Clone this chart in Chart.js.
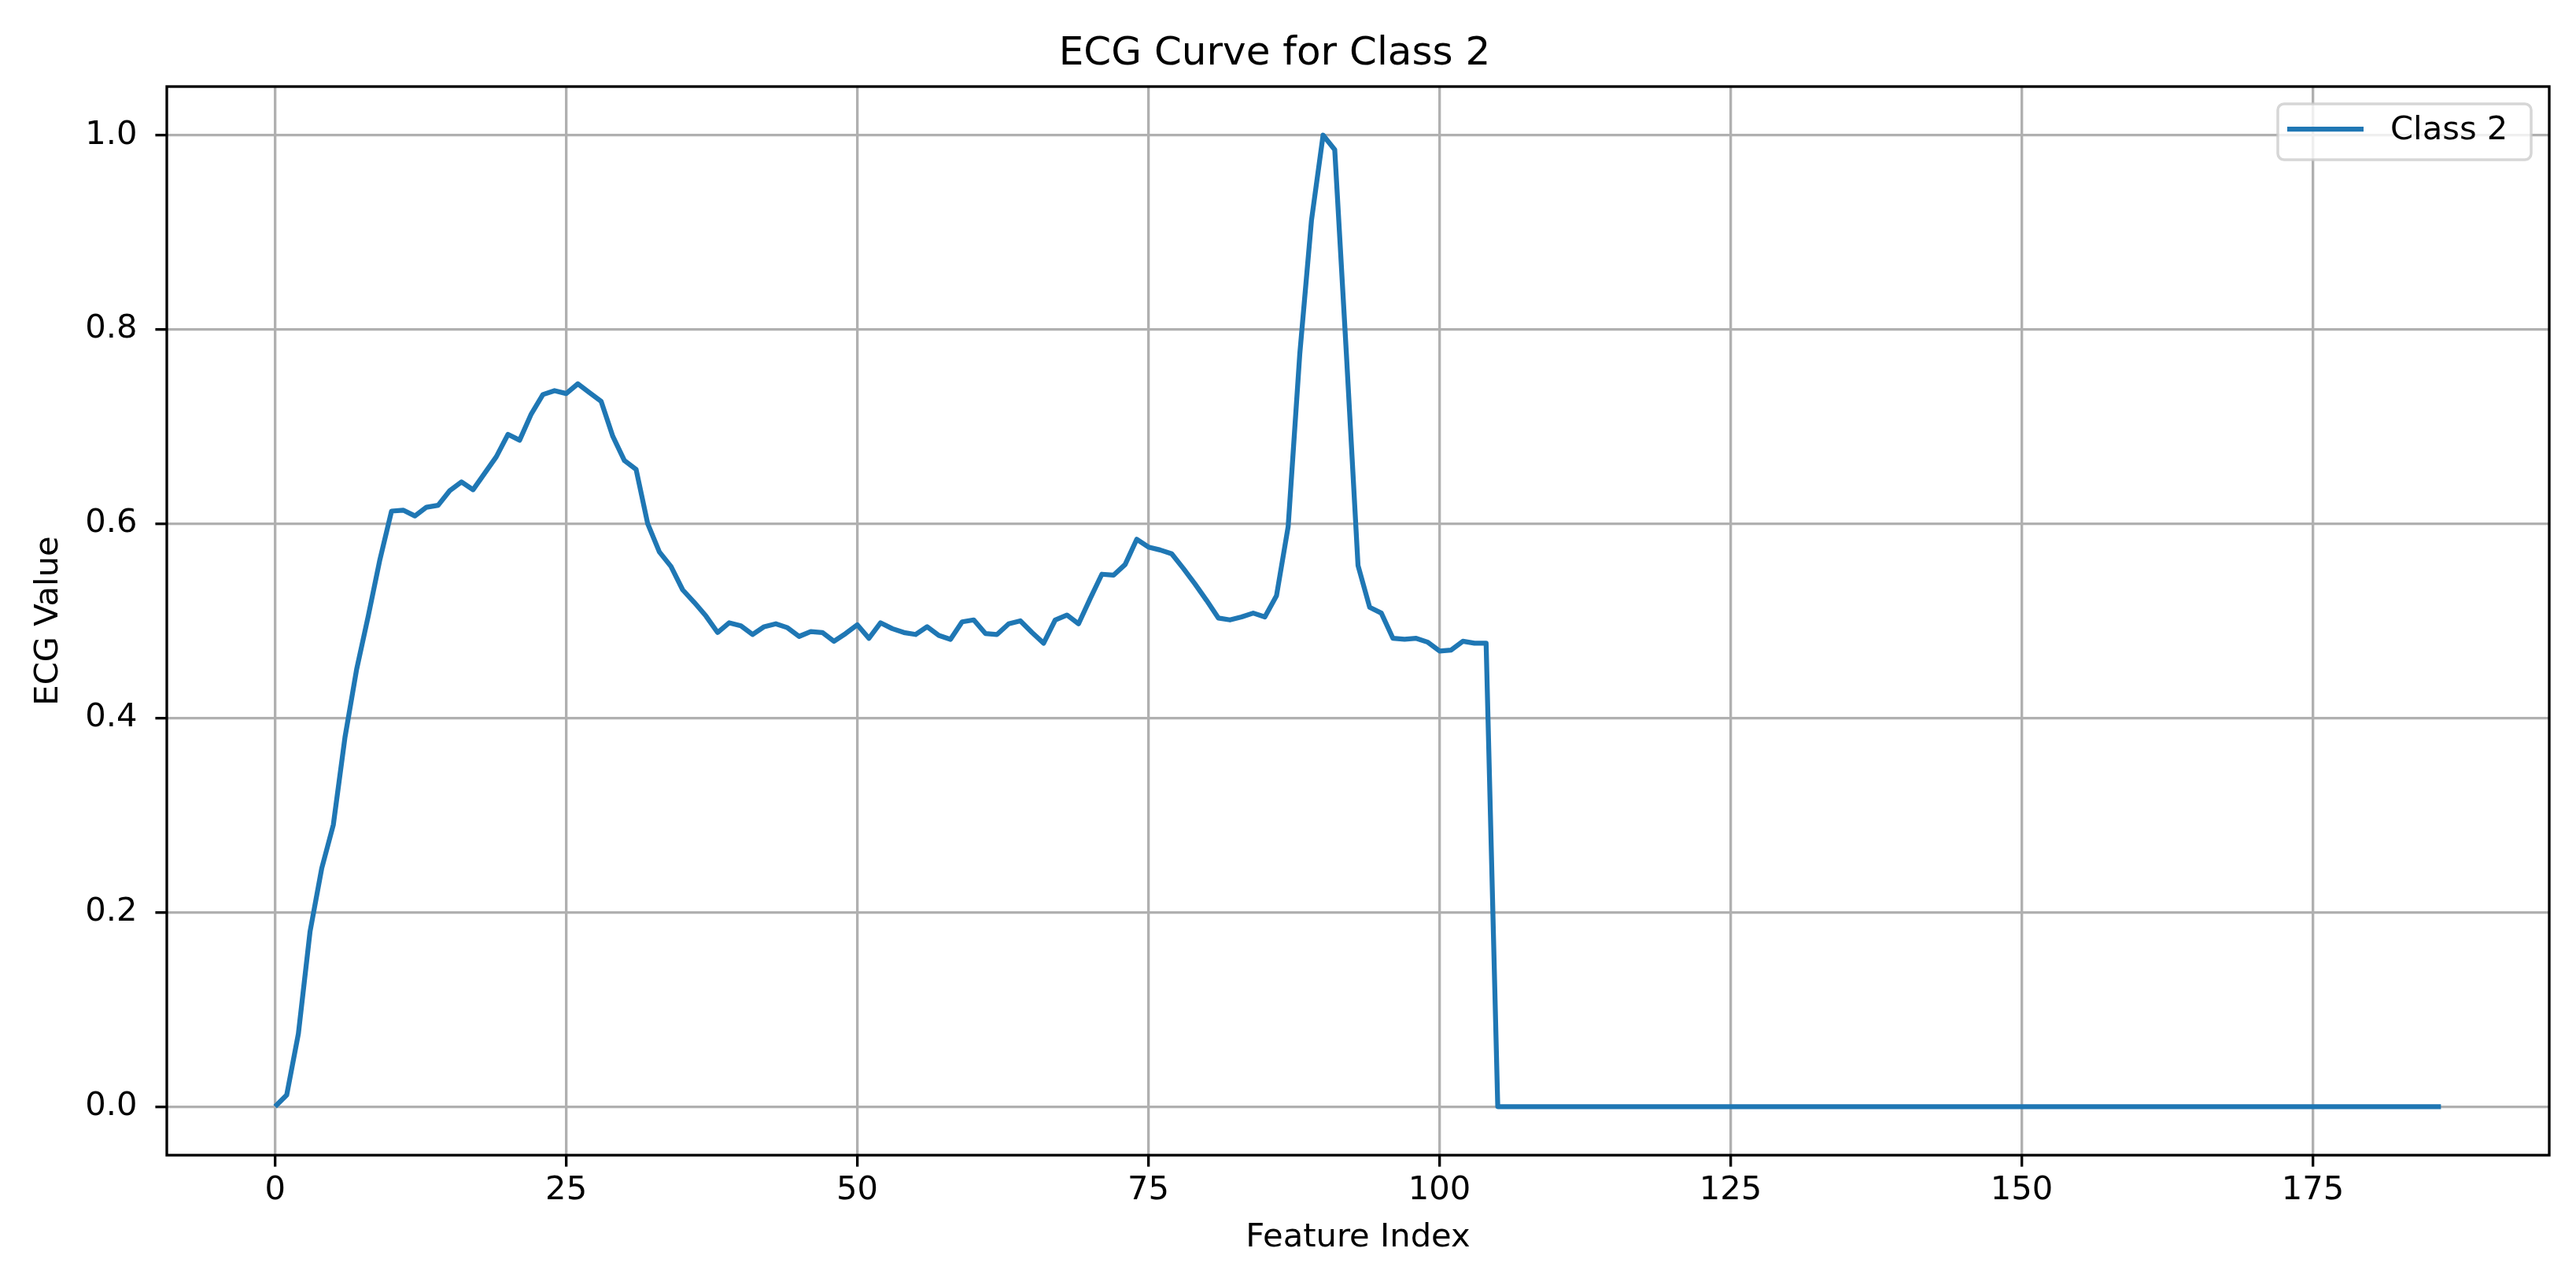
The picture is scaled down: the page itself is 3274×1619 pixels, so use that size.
<!DOCTYPE html>
<html>
<head>
<meta charset="utf-8">
<title>ECG Curve for Class 2</title>
<script src="https://cdn.jsdelivr.net/npm/chart.js@4.4.0/dist/chart.umd.min.js"></script>
<style>
  html, body { margin:0; padding:0; background:#fff; }
  canvas { display:block; }
</style>
</head>
<body>
<canvas id="ecg" width="3274" height="1619"></canvas>
<script>
// ECG curve, class 2 (index 0..186)

const SERIES_LABEL = 'Class 2';
const LINE_COLOR = '#1f77b4';

const ecgValues = [
  0.000, 0.012, 0.075, 0.180, 0.245, 0.290, 0.380, 0.450, 0.505, 0.563,
  0.613, 0.614, 0.608, 0.617, 0.619, 0.634, 0.643, 0.635, 0.652, 0.669,
  0.692, 0.686, 0.713, 0.733, 0.737, 0.734, 0.744, 0.735, 0.726, 0.690,
  0.665, 0.656, 0.600, 0.571, 0.556, 0.532, 0.519, 0.505, 0.488, 0.498,
  0.495, 0.486, 0.494, 0.497, 0.493, 0.484, 0.489, 0.488, 0.479, 0.487,
  0.496, 0.482, 0.498, 0.492, 0.488, 0.486, 0.494, 0.485, 0.481, 0.499,
  0.501, 0.487, 0.486, 0.497, 0.500, 0.488, 0.477, 0.501, 0.506, 0.497,
  0.523, 0.548, 0.547, 0.558, 0.584, 0.576, 0.573, 0.569, 0.554, 0.538,
  0.521, 0.503, 0.501, 0.504, 0.508, 0.504, 0.526, 0.597, 0.775, 0.912,
  1.000, 0.985, 0.775, 0.557, 0.514, 0.508, 0.482, 0.481, 0.482, 0.478,
  0.469, 0.470, 0.479, 0.477, 0.477, 0, 0, 0, 0, 0,
  0, 0, 0, 0, 0, 0, 0, 0, 0, 0,
  0, 0, 0, 0, 0, 0, 0, 0, 0, 0,
  0, 0, 0, 0, 0, 0, 0, 0, 0, 0,
  0, 0, 0, 0, 0, 0, 0, 0, 0, 0,
  0, 0, 0, 0, 0, 0, 0, 0, 0, 0,
  0, 0, 0, 0, 0, 0, 0, 0, 0, 0,
  0, 0, 0, 0, 0, 0, 0, 0, 0, 0,
  0, 0, 0, 0, 0, 0, 0
];

// axis ranges / ticks (matplotlib auto limits with 5% margins)
const xRange = [-9.3, 195.3];
const xTickStep = 25;
const yRange = [-0.05, 1.05];
const yTickStep = 0.2;

const FONT = 'DejaVu Sans';
const PT = 300 / 72; // saved at 300 dpi

// x of each point is simply its feature index
const points = ecgValues.map((v, i) => ({ x: i, y: v }));

// black box around the axes, like matplotlib spines
const spines = {
  id: 'spines',
  afterDatasetsDraw(chart) {
    const { ctx, chartArea: a } = chart;
    ctx.save();
    ctx.strokeStyle = '#000';
    ctx.lineWidth = 0.8 * PT;
    ctx.strokeRect(a.left, a.top, a.right - a.left, a.bottom - a.top);
    ctx.restore();
  }
};

// matplotlib-looking legend box in the upper right corner
const mplLegend = {
  id: 'mplLegend',
  afterDraw(chart) {
    const { ctx, chartArea: a } = chart;
    const ds = chart.data.datasets[0];
    const w = 322, h = 71, r = 8;
    const x = a.right - 23 - w, y = a.top + 22;
    ctx.save();
    ctx.beginPath();
    ctx.roundRect(x, y, w, h, r);
    ctx.fillStyle = 'rgba(255,255,255,0.8)';
    ctx.fill();
    ctx.lineWidth = 3.5;
    ctx.strokeStyle = 'rgba(204,204,204,0.8)';
    ctx.stroke();

    ctx.beginPath();
    ctx.moveTo(x + 12, y + 32);
    ctx.lineTo(x + 109, y + 32);
    ctx.strokeStyle = ds.borderColor;
    ctx.lineWidth = ds.borderWidth;
    ctx.stroke();

    ctx.fillStyle = '#000';
    ctx.font = (10 * PT) + 'px "' + FONT + '"';
    ctx.textBaseline = 'middle';
    ctx.textAlign = 'left';
    ctx.fillText(ds.label, x + 143, y + 34);
    ctx.restore();
  }
};

new Chart(document.getElementById('ecg'), {
  type: 'line',
  data: {
    datasets: [{
      label: SERIES_LABEL,
      data: points,
      borderColor: LINE_COLOR,
      borderWidth: 1.5 * PT,
      borderJoinStyle: 'round',
      pointRadius: 0,
      tension: 0,
      fill: false
    }]
  },
  options: {
    responsive: false,
    animation: false,
    devicePixelRatio: 1,
    layout: { padding: { left: 0, right: 34, top: 0, bottom: 0 } },
    plugins: {
      legend: { display: false },
      tooltip: { enabled: false },
      title: {
        display: true,
        text: 'ECG Curve for Class 2',
        color: '#000',
        font: { family: FONT, size: 12 * PT, weight: 'normal' },
        padding: { top: 39, bottom: 11 }
      }
    },
    scales: {
      x: {
        type: 'linear',
        min: xRange[0],
        max: xRange[1],
        afterFit: s => { s.height = 151; },
        border: { display: false },
        grid: {
          color: '#b0b0b0',
          lineWidth: 0.8 * PT,
          drawTicks: true,
          tickLength: 3.5 * PT,
          tickColor: '#000',
          tickWidth: 0.8 * PT
        },
        ticks: {
          stepSize: xTickStep,
          includeBounds: false,
          maxRotation: 0,
          padding: 6,
          color: '#000',
          font: { family: FONT, size: 10 * PT },
          callback: v => String(v)
        },
        title: {
          display: true,
          text: 'Feature Index',
          color: '#000',
          font: { family: FONT, size: 10 * PT },
          padding: { top: 0, bottom: 21 }
        }
      },
      y: {
        min: yRange[0],
        max: yRange[1],
        afterFit: s => { s.width = 212; },
        border: { display: false },
        grid: {
          color: '#b0b0b0',
          lineWidth: 0.8 * PT,
          drawTicks: true,
          tickLength: 3.5 * PT,
          tickColor: '#000',
          tickWidth: 0.8 * PT
        },
        ticks: {
          stepSize: yTickStep,
          includeBounds: false,
          padding: 23,
          color: '#000',
          font: { family: FONT, size: 10 * PT },
          callback: v => v.toFixed(1)
        },
        title: {
          display: true,
          text: 'ECG Value',
          color: '#000',
          font: { family: FONT, size: 10 * PT },
          padding: { top: 37, bottom: 0 }
        }
      }
    }
  },
  plugins: [spines, mplLegend]
});
</script>
</body>
</html>
